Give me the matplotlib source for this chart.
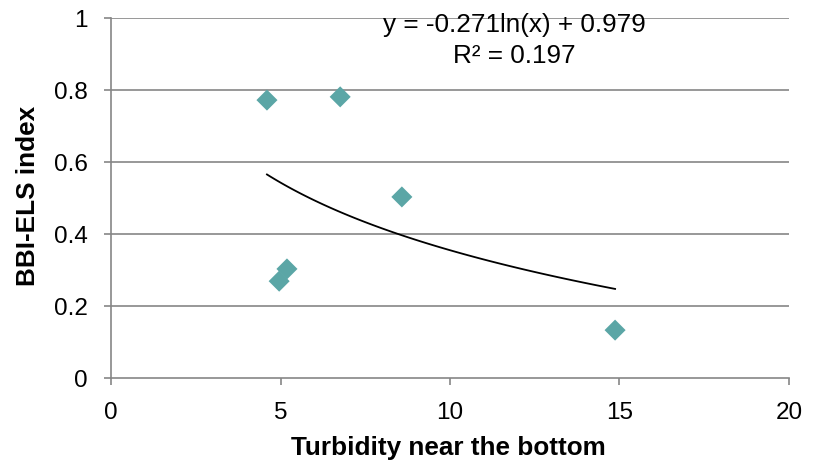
import numpy as np
import matplotlib.pyplot as plt

plt.rcParams['font.family'] = ['Liberation Sans', 'DejaVu Sans']

# Data
turbidity = [4.6, 6.76, 8.58, 4.96, 5.19, 14.87]
bbi_els = [0.772, 0.781, 0.503, 0.269, 0.303, 0.133]

# Logarithmic trend line (as shown on the chart)
a, b = -0.271, 0.979
eq_text = "y = -0.271ln(x) + 0.979"
r2_text = "R² = 0.197"

x_ticks = [0, 5, 10, 15, 20]
y_ticks = [0, 0.2, 0.4, 0.6, 0.8, 1]
y_labels = ["0", "0.2", "0.4", "0.6", "0.8", "1"]

grey = "#868686"

fig = plt.figure(figsize=(8.17, 4.62), dpi=100)
ax = fig.add_axes([0.1359, 0.1818, 0.8298, 0.7792])

ax.set_xlim(0, 20)
ax.set_ylim(0, 1)
ax.set_yticks(y_ticks)
ax.set_yticklabels(y_labels)
ax.set_xticks(x_ticks)

for y in y_ticks[1:]:
    ax.axhline(y, color=grey, lw=1.2, zorder=1)

ax.scatter(turbidity, bbi_els, marker="D", s=115, color="#5BA6A6",
           edgecolors="none", zorder=3)

xs = np.linspace(min(turbidity), max(turbidity), 100)
ax.plot(xs, a * np.log(xs) + b, color="black", lw=1.3, zorder=2)

# trend line label
ax.text(11.89, 0.961, eq_text, ha="center", va="baseline", fontsize=18.8)
ax.text(11.89, 0.875, r2_text, ha="center", va="baseline", fontsize=18.8)

for side in ["top", "right"]:
    ax.spines[side].set_visible(False)
for side in ["left", "bottom"]:
    ax.spines[side].set_color(grey)
    ax.spines[side].set_linewidth(1.2)

ax.tick_params(axis="both", direction="out", length=5, width=1.2,
               color=grey, labelsize=17.5, pad=12)

ax.set_xlabel("Turbidity near the bottom", fontsize=18.8, fontweight="bold",
              va="center")
ax.set_ylabel("BBI-ELS index", fontsize=18.8, fontweight="bold",
              va="center")
ax.xaxis.set_label_coords(0.498, -0.194)
ax.yaxis.set_label_coords(-0.1224, 0.506)

fig.savefig("out.png", dpi=100)
